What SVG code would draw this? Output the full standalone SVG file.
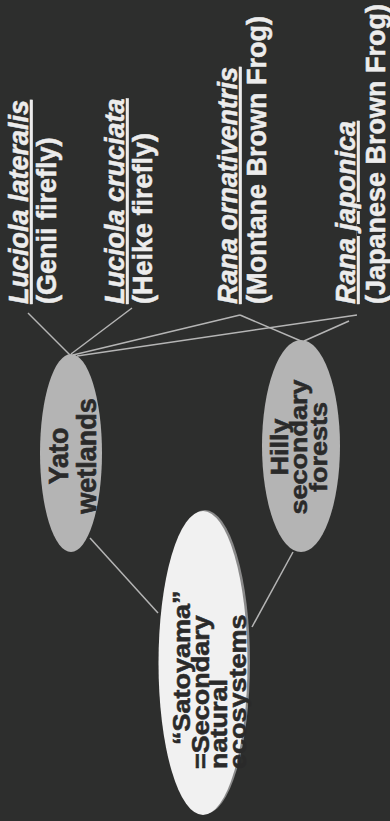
<svg xmlns="http://www.w3.org/2000/svg" width="390" height="821" viewBox="0 0 390 821">
  <style>
    .bg { fill: #2d2e2d; }
    .link { stroke: #b5b5b5; stroke-width: 1.5; fill: none; }
    .lbl { font-family: "Liberation Sans", Arial, sans-serif; font-weight: bold; font-size: 27px; fill: #ececec; stroke: #ececec; stroke-width: 0.5; }
    .sp { font-style: italic; text-decoration: underline; }
    .in { font-family: "Liberation Sans", Arial, sans-serif; font-weight: bold; font-size: 27px; fill: #2a2a2a; stroke: #2a2a2a; stroke-width: 0.6; }
    .mid { text-anchor: middle; }
    .hab { fill: #b4b4b4; }
    .core { fill: #f1f1f1; }
    .rim { fill: #8a8a8a; }
  </style>

  <rect class="bg" x="0" y="0" width="390" height="821"/>

  <!-- connectors -->
  <g id="connectors">
    <line class="link" x1="28" y1="313" x2="70" y2="355"/>
    <line class="link" x1="132" y1="308" x2="71" y2="354"/>
    <line class="link" x1="240" y1="315" x2="73" y2="355"/>
    <line class="link" x1="357" y1="315" x2="77" y2="356"/>
    <line class="link" x1="240" y1="315" x2="301" y2="341"/>
    <line class="link" x1="349" y1="321" x2="304" y2="341"/>
    <line class="link" x1="90" y1="538" x2="158" y2="613"/>
    <line class="link" x1="293" y1="552" x2="252" y2="627"/>
  </g>

  <!-- species labels, read bottom to top -->
  <g id="luciola-lateralis">
    <text class="lbl sp" transform="translate(28,304) rotate(-90)">Luciola lateralis</text>
    <text class="lbl" transform="translate(56,304) rotate(-90)">(Genii firefly)</text>
  </g>
  <g id="luciola-cruciata">
    <text class="lbl sp" transform="translate(124,304) rotate(-90)">Luciola cruciata</text>
    <text class="lbl" transform="translate(152,304) rotate(-90)">(Heike firefly)</text>
  </g>
  <g id="rana-ornativentris">
    <text class="lbl sp" transform="translate(237,304) rotate(-90)">Rana ornativentris</text>
    <text class="lbl" transform="translate(266,304) rotate(-90)">(Montane Brown Frog)</text>
  </g>
  <g id="rana-japonica">
    <text class="lbl sp" transform="translate(355,304) rotate(-90)">Rana japonica</text>
    <text class="lbl" transform="translate(385,304) rotate(-90)">(Japanese Brown Frog)</text>
  </g>

  <!-- habitats -->
  <g id="yato-wetlands">
    <ellipse class="hab" cx="71" cy="453" rx="31" ry="99"/>
    <text class="in mid" transform="translate(68,456) rotate(-90)">Yato</text>
    <text class="in mid" transform="translate(96,456) rotate(-90)">wetlands</text>
  </g>
  <g id="hilly-forests">
    <ellipse class="hab" cx="301" cy="446" rx="39" ry="106"/>
    <text class="in mid" transform="translate(288,447) rotate(-90) scale(1,0.88)">Hilly</text>
    <text class="in mid" transform="translate(307,447) rotate(-90) scale(1,0.88)">secondary</text>
    <text class="in mid" transform="translate(327,447) rotate(-90) scale(1,0.88)">forests</text>
  </g>

  <g id="satoyama">
    <ellipse class="rim" cx="205" cy="662" rx="45" ry="152"/>
    <ellipse class="core" cx="203" cy="663" rx="44.5" ry="152"/>
    <text class="in" transform="translate(189.5,745) rotate(-90) scale(1,0.88)">“Satoyama”</text>
    <text class="in" transform="translate(208.5,769) rotate(-90) scale(1,0.88)">=Secondary</text>
    <text class="in" transform="translate(227,769) rotate(-90) scale(1,0.88)">natural</text>
    <text class="in" transform="translate(245.5,769) rotate(-90) scale(1,0.88)">ecosystems</text>
  </g>
</svg>
